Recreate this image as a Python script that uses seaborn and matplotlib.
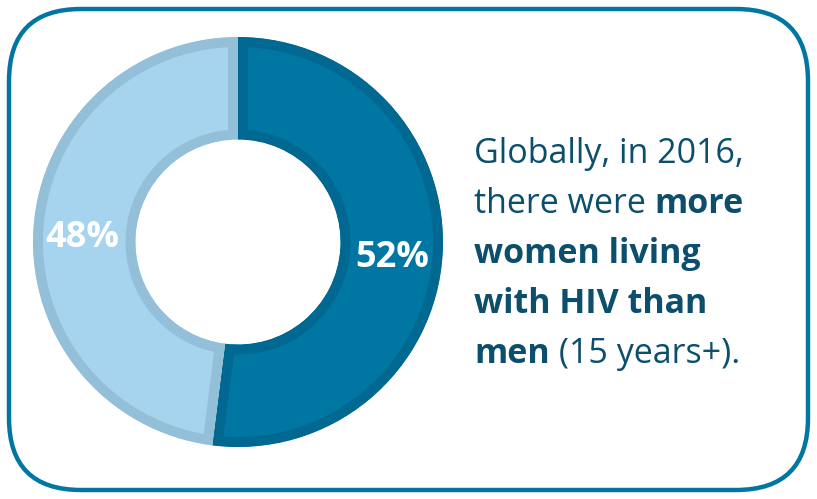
import numpy as np
import pandas as pd
import matplotlib
matplotlib.use("Agg")
import matplotlib.pyplot as plt
import seaborn as sns
from matplotlib.patches import FancyBboxPatch

# data
groups = ["Women", "Men"]
shares = [52, 48]
labels = ["52%", "48%"]
fills = ["#0077a3", "#a6d4ef"]
edges = ["#006891", "#93bfd9"]

text_color = "#0b4f6c"
lines = [
    [("Globally, in 2016,", "normal")],
    [("there were ", "normal"), ("more", "bold")],
    [("women living", "bold")],
    [("with HIV than", "bold")],
    [("men", "bold"), (" (15 years+).", "normal")],
]

sns.set_theme(style="white")
plt.rcParams["font.family"] = ["Open Sans", "DejaVu Sans"]

W, H = 817, 499
fig = plt.figure(figsize=(W / 100, H / 100), dpi=100)

# background axes in pixel units (y from top)
bg = fig.add_axes([0, 0, 1, 1])
bg.set_xlim(0, W)
bg.set_ylim(H, 0)
bg.axis("off")
box = FancyBboxPatch((9, 9), W - 18, H - 18,
                     boxstyle="round,pad=0,rounding_size=72",
                     facecolor="white", edgecolor="#0077a3", linewidth=3.2)
bg.add_patch(box)

# donut
cx, cy, r = 238, 242, 205
ax = fig.add_axes([(cx - r) / W, (H - cy - r) / H, 2 * r / W, 2 * r / H])
df = pd.DataFrame({"group": groups, "share": shares})
wedges, _ = ax.pie(df["share"], colors=fills, startangle=90, counterclock=False,
                   radius=1.0, wedgeprops=dict(width=0.5, linewidth=14.4))
ax.set_xlim(-1, 1)
ax.set_ylim(-1, 1)
ax.set_aspect("equal")
ax.axis("off")
for w, ec in zip(wedges, edges):
    w.set_edgecolor(ec)
    w.set_clip_on(True)
    w.set_clip_path(w)

# percentage labels (drawn on the donut axes, placed in pixel units)
ax.text(392, 258, labels[0], color="white", fontsize=26, fontweight="bold",
        ha="center", va="center", transform=bg.transData, clip_on=False)
ax.text(82, 238, labels[1], color="white", fontsize=26, fontweight="bold",
        ha="center", va="center", transform=bg.transData, clip_on=False)

# right-hand text
fig.canvas.draw()
renderer = fig.canvas.get_renderer()
x0, y0, step = 474, 163, 50
for i, segs in enumerate(lines):
    x = x0
    for s, wt in segs:
        t = bg.text(x, y0 + i * step, s, color=text_color, fontsize=24.5,
                    fontweight=wt, ha="left", va="baseline")
        bb = t.get_window_extent(renderer=renderer)
        x += bb.width

fig.savefig("out.png", dpi=100)
